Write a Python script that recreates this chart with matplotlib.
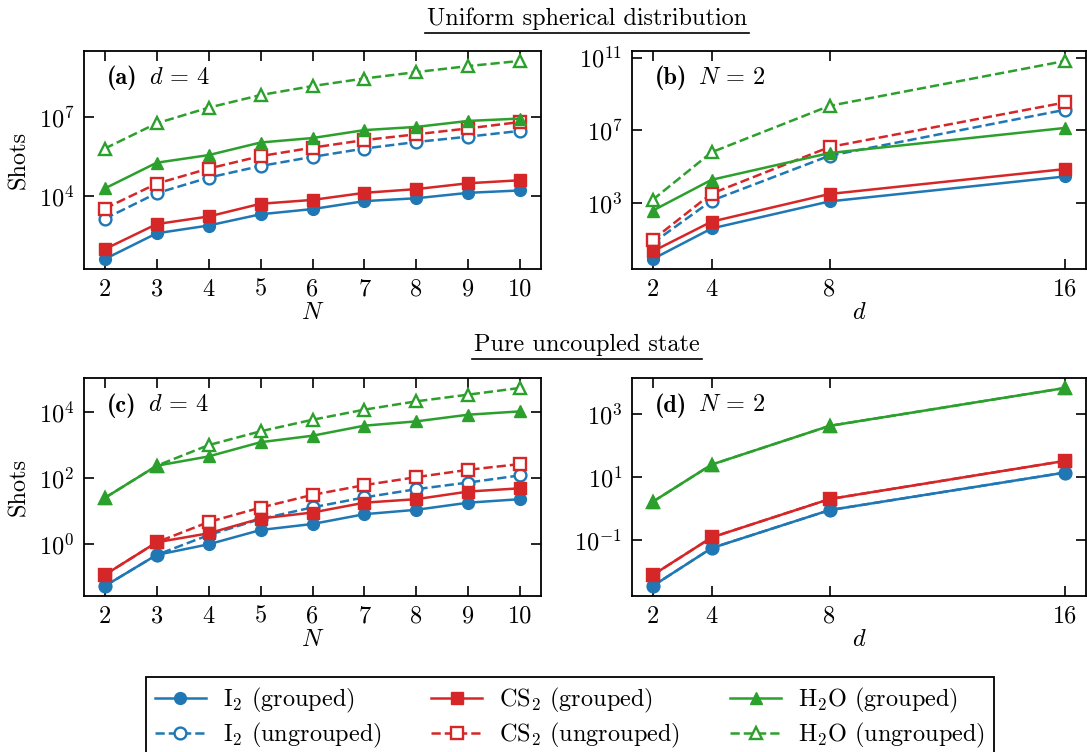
import matplotlib
matplotlib.use('Agg')
import matplotlib.pyplot as plt
from matplotlib.lines import Line2D
from matplotlib.ticker import NullLocator, FixedLocator

plt.rcParams['font.family'] = 'serif'
plt.rcParams['font.serif'] = ['cmr10', 'DejaVu Serif']
plt.rcParams['mathtext.fontset'] = 'cm'
plt.rcParams['axes.formatter.use_mathtext'] = True
FS = 17.5
plt.rcParams['font.size'] = FS

# ---------------- data ----------------
N_vals = [2, 3, 4, 5, 6, 7, 8, 9, 10]
d_vals = [2, 4, 8, 16]

# (a) uniform spherical, d = 4
a_I2_g = [40, 380, 750, 2000, 3150, 6300, 8100, 13000, 16000]
a_CS2_g = [95, 850, 1650, 5000, 7000, 13000, 18000, 30000, 39000]
a_H2O_g = [1.9e4, 1.8e5, 3.5e5, 1.05e6, 1.55e6, 3.1e6, 4.1e6, 6.9e6, 8.5e6]
a_I2_u = [1350, 1.26e4, 4.9e4, 1.35e5, 3.0e5, 6.2e5, 1.1e6, 1.75e6, 2.9e6]
a_CS2_u = [3300, 2.9e4, 1.08e5, 3.2e5, 6.7e5, 1.3e6, 2.15e6, 3.6e6, 6.3e6]
a_H2O_u = [6.2e5, 5.6e6, 2.2e7, 6.6e7, 1.45e8, 2.8e8, 4.9e8, 8.3e8, 1.3e9]

# (b) uniform spherical, N = 2
b_I2_g = [0.83, 40, 1230, 2.9e4]
b_CS2_g = [2.2, 95, 3150, 7.4e4]
b_H2O_g = [380, 1.9e4, 5.6e5, 1.35e7]
b_I2_u = [6.3, 1350, 4.0e5, 1.35e8]
b_CS2_u = [9.5, 3300, 1.2e6, 3.4e8]
b_H2O_u = [1500, 6.2e5, 2.2e8, 6.5e10]

# (c) pure uncoupled, d = 4
c_I2_g = [0.055, 0.48, 1.0, 2.7, 4.1, 8.1, 11, 18, 23]
c_CS2_g = [0.12, 1.15, 2.15, 6.0, 9.1, 18, 23, 39, 49]
c_H2O_g = [25, 234, 447, 1200, 1880, 3780, 5100, 8100, 10200]
c_I2_u = [0.055, 0.48, 1.9, 5.8, 13, 26, 46, 73, 120]
c_CS2_u = [0.12, 1.15, 4.7, 12.8, 31, 61, 106, 177, 263]
c_H2O_u = [25, 234, 980, 2560, 5700, 11500, 20500, 32600, 52000]

# (d) pure uncoupled, N = 2
d_I2_g = [0.0034, 0.055, 0.89, 14]
d_CS2_g = [0.0076, 0.12, 2.0, 33]
d_H2O_g = [1.63, 25, 427, 6900]
d_I2_u = [0.0034, 0.055, 0.89, 14]
d_CS2_u = [0.0076, 0.12, 2.0, 33]
d_H2O_u = [1.63, 25, 427, 6900]

molecules = ['I$_2$', 'CS$_2$', 'H$_2$O']
colors = ['#1f77b4', '#d62728', '#2ca02c']
markers = ['o', 's', '^']

panel_tags = ['(a)', '(b)', '(c)', '(d)']
panel_conds = [r'$d\,=\,4$', r'$N\,=\,2$', r'$d\,=\,4$', r'$N\,=\,2$']
yticks = [[1e4, 1e7], [1e3, 1e7, 1e11], [1e0, 1e2, 1e4], [1e-1, 1e1, 1e3]]

# ---------------- figure ----------------
W, H = 1087, 752
fig = plt.figure(figsize=(W / 100, H / 100), dpi=100)


def rect(l, r, t, b):
    return [l / W, 1 - b / H, (r - l) / W, (b - t) / H]


axA = fig.add_axes(rect(84, 541, 51, 269))
axB = fig.add_axes(rect(632, 1086, 51, 269))
axC = fig.add_axes(rect(84, 541, 378, 596))
axD = fig.add_axes(rect(632, 1086, 378, 596))

panels = [
    (axA, N_vals, [a_I2_g, a_CS2_g, a_H2O_g], [a_I2_u, a_CS2_u, a_H2O_u], '$N$'),
    (axB, d_vals, [b_I2_g, b_CS2_g, b_H2O_g], [b_I2_u, b_CS2_u, b_H2O_u], '$d$'),
    (axC, N_vals, [c_I2_g, c_CS2_g, c_H2O_g], [c_I2_u, c_CS2_u, c_H2O_u], '$N$'),
    (axD, d_vals, [d_I2_g, d_CS2_g, d_H2O_g], [d_I2_u, d_CS2_u, d_H2O_u], '$d$'),
]

LW, MS = 1.8, 8.5
handles = {}
for i, (ax, x, grouped, ungrouped, xl) in enumerate(panels):
    for k in range(3):
        h, = ax.plot(x, ungrouped[k], ls='--', color=colors[k], marker=markers[k],
                     mfc='white', mec=colors[k], mew=1.7, ms=MS, lw=LW, zorder=2)
        handles[(k, 'u')] = h
    for k in range(3):
        h, = ax.plot(x, grouped[k], ls='-', color=colors[k], marker=markers[k],
                     ms=MS, lw=LW, zorder=3)
        handles[(k, 'g')] = h
    ax.set_yscale('log')
    ax.yaxis.set_major_locator(FixedLocator(yticks[i]))
    ax.yaxis.set_minor_locator(NullLocator())
    ax.set_xticks(x)
    ax.set_xticklabels([str(v) for v in x])
    ax.tick_params(direction='in', top=True, right=True, length=7, width=1.2,
                   labelsize=FS, pad=7)
    ax.tick_params(which='minor', length=0)
    for s in ax.spines.values():
        s.set_linewidth(1.3)
    ax.set_xlabel(xl, fontsize=FS, labelpad=1)
    if i in (0, 2):
        ax.set_ylabel('Shots', fontsize=FS, labelpad=6)
    t1 = ax.text(0.05, 0.875, panel_tags[i], transform=ax.transAxes,
                 fontsize=FS, va='center', ha='left', family='cmb10')
    ax.annotate(panel_conds[i], xy=(1, 0.5), xycoords=t1, xytext=(8, 0),
                textcoords='offset points', va='center', ha='left', fontsize=FS)

# section titles with underlines
titles = [('Uniform spherical distribution', 25, 32.5),
          ('Pure uncoupled state', 351, 359)]
cx = 587
for txt, base, uline in titles:
    fig.text(cx / W, 1 - base / H, txt, ha='center', va='baseline', fontsize=FS)

fig.canvas.draw()
renderer = fig.canvas.get_renderer()
for t, (txt, base, uline) in zip(fig.texts, titles):
    bb = t.get_window_extent(renderer)
    fig.add_artist(Line2D([bb.x0 / W - 0.002, bb.x1 / W + 0.002],
                          [1 - uline / H, 1 - uline / H],
                          transform=fig.transFigure, color='black', lw=1.2))

order = [(0, 'g'), (0, 'u'), (1, 'g'), (1, 'u'), (2, 'g'), (2, 'u')]
labels = [f"{molecules[k]} ({'grouped' if g == 'g' else 'ungrouped'})" for k, g in order]
leg = fig.legend([handles[o] for o in order], labels, loc='upper center',
                 bbox_to_anchor=(570 / W, 1 - 677 / H), ncol=3, frameon=True,
                 fancybox=False, edgecolor='black', framealpha=1,
                 handlelength=2.1, columnspacing=2.05, handletextpad=0.7,
                 labelspacing=0.22, borderaxespad=0, fontsize=FS, borderpad=0.38)
leg.get_frame().set_linewidth(1.3)

fig.savefig('out.png', dpi=100)
